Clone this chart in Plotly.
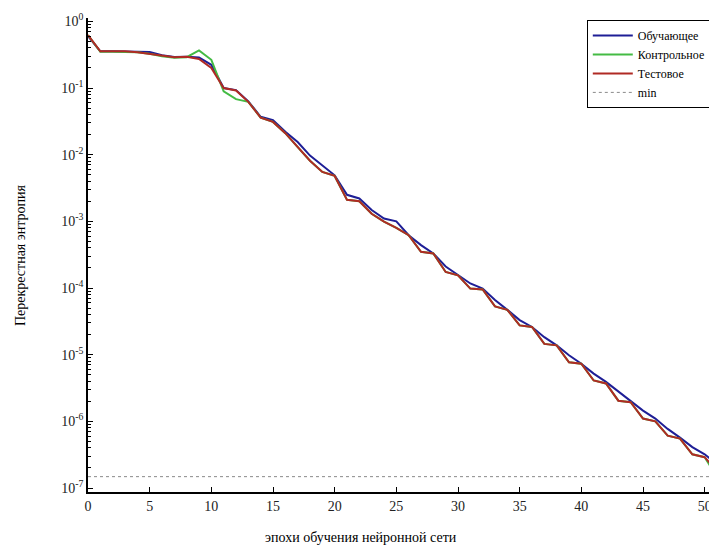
import plotly.graph_objects as go

# ---- data ----
epochs = list(range(0, 52))

train = [0.6, 0.355, 0.355, 0.355, 0.352, 0.347, 0.31, 0.292, 0.295, 0.287,
         0.223, 0.1, 0.093, 0.063, 0.037, 0.033, 0.022, 0.0155, 0.0097, 0.007,
         0.0049, 0.0025, 0.0022, 0.00148, 0.0011, 0.001, 0.00062, 0.00044, 0.00033, 0.00021,
         0.000155, 0.000117, 9.8e-5, 6.6e-5, 4.7e-5, 3.3e-5, 2.6e-5, 1.83e-5, 1.38e-5, 9.8e-6,
         7.3e-6, 5.2e-6, 3.9e-6, 2.8e-6, 2.05e-6, 1.45e-6, 1.1e-6, 7.7e-7, 5.7e-7, 4.1e-7,
         3.2e-7, 2.3e-7]

validation = [0.62, 0.35, 0.35, 0.35, 0.345, 0.327, 0.3, 0.285, 0.29, 0.366,
              0.265, 0.089, 0.068, 0.062, 0.036, 0.031, 0.021, 0.013, 0.0081, 0.0055,
              0.0048, 0.0021, 0.002, 0.0013, 0.00099, 0.0008, 0.00062, 0.00035, 0.00033, 0.000174,
              0.000155, 9.8e-5, 9.5e-5, 5.3e-5, 4.7e-5, 2.75e-5, 2.6e-5, 1.45e-5, 1.38e-5, 7.7e-6,
              7.3e-6, 4.1e-6, 3.7e-6, 2.04e-6, 1.94e-6, 1.1e-6, 1.0e-6, 6.1e-7, 5.5e-7, 3.2e-7,
              2.9e-7, 1.48e-7]

test = [0.62, 0.355, 0.355, 0.355, 0.345, 0.327, 0.305, 0.29, 0.295, 0.272,
        0.2, 0.1, 0.092, 0.062, 0.036, 0.031, 0.021, 0.013, 0.0081, 0.0055,
        0.0048, 0.0021, 0.002, 0.0013, 0.00099, 0.0008, 0.00062, 0.00035, 0.00033, 0.000174,
        0.000155, 9.8e-5, 9.5e-5, 5.3e-5, 4.7e-5, 2.75e-5, 2.6e-5, 1.45e-5, 1.38e-5, 7.7e-6,
        7.3e-6, 4.1e-6, 3.7e-6, 2.04e-6, 1.94e-6, 1.1e-6, 1.0e-6, 6.1e-7, 5.5e-7, 3.2e-7,
        2.9e-7, 1.8e-7]

min_value = 1.48e-7
best_epoch = 51

series_names = ["Обучающее", "Контрольное", "Тестовое", "min"]
x_tick_vals = [0, 5, 10, 15, 20, 25, 30, 35, 40, 45, 50]
y_tick_vals = [1e-7, 1e-6, 1e-5, 1e-4, 1e-3, 1e-2, 1e-1, 1]
y_tick_text = ["10<sup>-7</sup>", "10<sup>-6</sup>", "10<sup>-5</sup>", "10<sup>-4</sup>",
               "10<sup>-3</sup>", "10<sup>-2</sup>", "10<sup>-1</sup>", "10<sup>0</sup>"]
y_minor_vals = [k * 10.0 ** e for e in range(-8, 0) for k in range(2, 10)]
x_title = "эпохи обучения нейронной сети"
y_title = "Перекрестная энтропия"

# ---- styling ----
SERIF = "Liberation Serif, Times New Roman, serif"
BLUE = "#1e1e96"
GREEN = "#44bb44"
RED = "#b02a24"

fig = go.Figure()
fig.add_trace(go.Scatter(x=epochs, y=train, mode="lines", name=series_names[0],
                         line=dict(color=BLUE, width=2)))
fig.add_trace(go.Scatter(x=epochs, y=validation, mode="lines", name=series_names[1],
                         line=dict(color=GREEN, width=2)))
fig.add_trace(go.Scatter(x=epochs, y=test, mode="lines", name=series_names[2],
                         line=dict(color=RED, width=2)))
fig.add_trace(go.Scatter(x=[epochs[0], epochs[-1]], y=[min_value, min_value], mode="lines",
                         name=series_names[3],
                         line=dict(color="#8a8a8a", width=1, dash="dot")))
fig.add_trace(go.Scatter(x=[best_epoch], y=[min_value], mode="markers", showlegend=False,
                         cliponaxis=False,
                         marker=dict(symbol="circle-open", size=11,
                                     line=dict(color="#2a9a2a", width=2))))

# page body has an 8px margin: the figure is sized/offset to compensate
fig.update_layout(
    width=709, height=540,
    margin=dict(l=80, r=0, t=10, b=56),
    paper_bgcolor="white", plot_bgcolor="white",
    font=dict(family=SERIF, size=13, color="black"),
    showlegend=True,
    legend=dict(x=0.793, y=0.996, xanchor="left", yanchor="top",
                bgcolor="white", bordercolor="black", borderwidth=1,
                font=dict(family=SERIF, size=12, color="black"),
                itemwidth=40, tracegroupgap=0),
    annotations=[
        dict(text=x_title, xref="paper", yref="paper", x=0.434, y=-0.096,
             xanchor="center", yanchor="middle", showarrow=False,
             font=dict(family=SERIF, size=14, color="black")),
        dict(text=y_title, xref="paper", yref="paper", x=-0.108, y=0.5,
             xanchor="center", yanchor="middle", showarrow=False, textangle=-90,
             font=dict(family=SERIF, size=14, color="black")),
    ],
)

fig.update_xaxes(range=[0, 51], tickmode="array", tickvals=x_tick_vals,
                 ticks="inside", ticklen=5, tickcolor="black", tickwidth=1,
                 showline=True, linecolor="black", linewidth=1.5,
                 showgrid=False, zeroline=False,
                 tickfont=dict(family=SERIF, size=14, color="#222222"))

fig.update_yaxes(type="log", range=[-7.06, 0.05], tickmode="array",
                 tickvals=y_tick_vals, ticktext=y_tick_text,
                 ticks="inside", ticklen=5, tickcolor="black", tickwidth=1,
                 showline=True, linecolor="black", linewidth=1.5,
                 showgrid=False, zeroline=False,
                 minor=dict(tickmode="array", tickvals=y_minor_vals, ticks="inside",
                            ticklen=3, tickcolor="black", showgrid=False),
                 tickfont=dict(family=SERIF, size=14, color="#222222"))

fig.write_html("out.html")
